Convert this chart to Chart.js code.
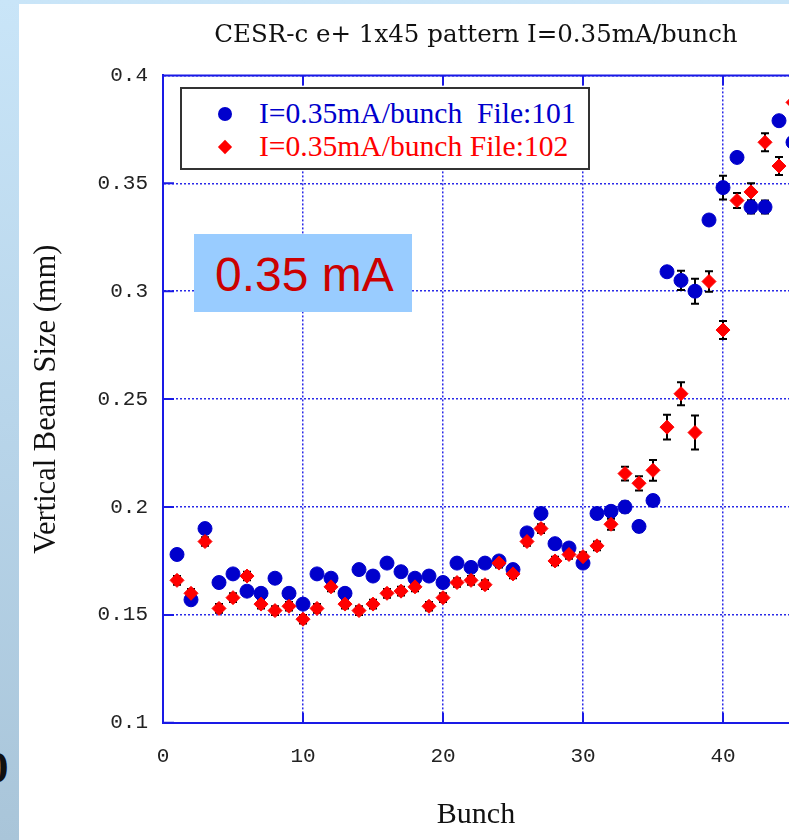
<!DOCTYPE html>
<html>
<head>
<meta charset="utf-8">
<script src="https://cdn.jsdelivr.net/npm/chart.js@4"></script>
<style>
  html, body { margin: 0; padding: 0; }
  body {
    width: 789px; height: 840px; overflow: hidden; position: relative;
    background: linear-gradient(to bottom, #c9e5f8 0%, #b8d5ea 50%, #a9c5d9 100%);
  }
  #panel { position: absolute; left: 19px; top: 4px; right: 0; bottom: 0; background: #fff; }
  #c { position: absolute; left: 19px; top: 4px; }
  #legend {
    position: absolute; left: 180px; top: 87px; width: 406px; height: 79px;
    border: 2px solid #333; background: #fff;
    font-family: "Liberation Serif", serif; font-size: 29.6px;
  }
  #legend .row { position: absolute; left: 0; width: 100%; height: 33px; }
  #legend .txt { position: absolute; left: 77px; top: 0; line-height: 33px; white-space: pre; }
  #legend .mk { position: absolute; left: 36px; top: 10px; width: 14px; height: 14px; }
  #tag {
    position: absolute; left: 194px; top: 234px; width: 197px; height: 78px;
    padding-left: 21px; background: #99ccff; color: #cc0000;
    font-family: "Liberation Sans", sans-serif; font-size: 48px; line-height: 82px;
  }
  #stray {
    position: absolute; left: -14px; top: 745px; font-family: "Liberation Serif", serif;
    font-weight: bold; font-size: 45px; line-height: 45px; color: #111;
  }
</style>
</head>
<body>
<div id="panel"></div>
<canvas id="c" width="914" height="836"></canvas>
<div id="legend">
  <div class="row" style="top:8px;color:#0000cc"><span class="mk" style="border-radius:50%;background:#0000cc"></span><span class="txt">I=0.35mA/bunch  File:101</span></div>
  <div class="row" style="top:41px;color:#ff0000"><span class="mk" style="background:#ff0000;transform:rotate(45deg) scale(0.72)"></span><span class="txt">I=0.35mA/bunch File:102</span></div>
</div>
<div id="tag">0.35 mA</div>
<div id="stray">0</div>
<script>
// bunch number along the train
const bunches = [1, 2, 3, 4, 5, 6, 7, 8, 9, 10, 11, 12, 13, 14, 15, 16, 17, 18, 19, 20,
  21, 22, 23, 24, 25, 26, 27, 28, 29, 30, 31, 32, 33, 34, 35, 36, 37, 38, 39, 40,
  41, 42, 43, 44, 45];

// vertical beam size (mm), File:101
const file101 = [0.178, 0.157, 0.190, 0.165, 0.169, 0.161, 0.160, 0.167, 0.160, 0.155,
  0.169, 0.167, 0.160, 0.171, 0.168, 0.174, 0.170, 0.167, 0.168, 0.165,
  0.174, 0.172, 0.174, 0.175, 0.171, 0.188, 0.197, 0.183, 0.181, 0.174,
  0.197, 0.198, 0.200, 0.191, 0.203, 0.309, 0.305, 0.300, 0.333, 0.348,
  0.362, 0.339, 0.339, 0.379, 0.369];
const err101 = [0.002, 0.002, 0.002, 0.002, 0.002, 0.002, 0.002, 0.002, 0.002, 0.002,
  0.002, 0.002, 0.002, 0.002, 0.002, 0.002, 0.002, 0.002, 0.002, 0.002,
  0.002, 0.002, 0.002, 0.002, 0.002, 0.002, 0.002, 0.002, 0.002, 0.002,
  0.0025, 0.0025, 0.0025, 0.0025, 0.0025, 0.002, 0.0045, 0.0058, 0.002, 0.0055,
  0.002, 0.003, 0.003, 0.002, 0.003];

// vertical beam size (mm), File:102
const file102 = [0.166, 0.160, 0.184, 0.153, 0.158, 0.168, 0.155, 0.152, 0.154, 0.148,
  0.153, 0.163, 0.155, 0.152, 0.155, 0.160, 0.161, 0.163, 0.154, 0.158,
  0.165, 0.166, 0.164, 0.174, 0.169, 0.184, 0.190, 0.175, 0.178, 0.177,
  0.182, 0.192, 0.2155, 0.211, 0.217, 0.237, 0.2525, 0.2345, 0.3045, 0.282,
  0.342, 0.346, 0.369, 0.358, 0.3875];
const err102 = [0.002, 0.002, 0.002, 0.002, 0.002, 0.002, 0.002, 0.002, 0.002, 0.002,
  0.002, 0.002, 0.002, 0.002, 0.002, 0.002, 0.002, 0.002, 0.002, 0.002,
  0.002, 0.002, 0.002, 0.002, 0.002, 0.002, 0.002, 0.002, 0.002, 0.002,
  0.002, 0.0025, 0.0032, 0.0033, 0.0048, 0.0057, 0.0053, 0.0079, 0.0047, 0.0042,
  0.0035, 0.004, 0.0042, 0.0042, 0.003];

const xTicks = [0, 10, 20, 30, 40, 50];
const yTicks = [0.1, 0.15, 0.2, 0.25, 0.3, 0.35, 0.4];

const AXIS_BLUE = '#1a1ae6';
const GRID_BLUE = '#2a2ae8';

// error bars, drawn under the markers
const errorBars = {
  id: 'errorBars',
  beforeDatasetsDraw(chart) {
    const { ctx, scales: { x, y } } = chart;
    ctx.save();
    ctx.strokeStyle = '#000';
    ctx.lineWidth = 2;
    chart.data.datasets.forEach(ds => {
      ds.data.forEach((p, i) => {
        const px = x.getPixelForValue(p.x);
        const top = y.getPixelForValue(p.y + ds.errors[i]);
        const bot = y.getPixelForValue(p.y - ds.errors[i]);
        ctx.beginPath();
        ctx.moveTo(px, top); ctx.lineTo(px, bot);
        ctx.moveTo(px - 4, top); ctx.lineTo(px + 4, top);
        ctx.moveTo(px - 4, bot); ctx.lineTo(px + 4, bot);
        ctx.stroke();
      });
    });
    ctx.restore();
  }
};

// top border and the short solid ticks inside the frame
const frame = {
  id: 'frame',
  beforeDatasetsDraw(chart) {
    const { ctx, chartArea: a, scales: { x, y } } = chart;
    ctx.save();
    ctx.strokeStyle = AXIS_BLUE;
    ctx.lineWidth = 2;
    ctx.beginPath();
    ctx.moveTo(a.left, a.top); ctx.lineTo(a.right, a.top);
    x.ticks.forEach(t => {
      const px = x.getPixelForValue(t.value);
      ctx.moveTo(px, a.top); ctx.lineTo(px, a.top + 10);
      ctx.moveTo(px, a.bottom); ctx.lineTo(px, a.bottom - 10);
    });
    y.ticks.forEach(t => {
      const py = y.getPixelForValue(t.value);
      ctx.moveTo(a.left, py); ctx.lineTo(a.left + 11, py);
      ctx.moveTo(a.right, py); ctx.lineTo(a.right - 11, py);
    });
    ctx.stroke();
    ctx.restore();
  }
};

const monoTicks = { family: '"Liberation Mono", monospace', size: 21 };
const serif = { family: '"Liberation Serif", serif', size: 30 };

new Chart(document.getElementById('c'), {
  type: 'scatter',
  data: {
    datasets: [{
      label: 'I=0.35mA/bunch  File:101',
      data: bunches.map((b, i) => ({ x: b, y: file101[i] })),
      errors: err101,
      pointStyle: 'circle',
      pointRadius: 7,
      backgroundColor: '#0000cc',
      borderColor: '#0000cc',
      borderWidth: 1,
      order: 2
    }, {
      label: 'I=0.35mA/bunch File:102',
      data: bunches.map((b, i) => ({ x: b, y: file102[i] })),
      errors: err102,
      pointStyle: 'rectRot',
      pointRadius: 7,
      backgroundColor: '#ff0000',
      borderColor: '#ff0000',
      borderWidth: 1,
      order: 1
    }]
  },
  options: {
    responsive: false,
    animation: false,
    events: [],
    layout: { padding: 0 },
    scales: {
      x: {
        type: 'linear',
        min: 0,
        max: 50,
        afterBuildTicks: s => { s.ticks = xTicks.map(v => ({ value: v })); },
        ticks: { font: monoTicks, color: '#222', padding: 21, callback: v => String(v) },
        grid: { color: GRID_BLUE, lineWidth: 1.5, drawTicks: false, borderDash: [2, 2] },
        border: { color: AXIS_BLUE, width: 2, dash: [2, 2] }
      },
      y: {
        type: 'linear',
        min: 0.1,
        max: 0.4,
        afterBuildTicks: s => { s.ticks = yTicks.map(v => ({ value: v })); },
        afterFit: s => { s.width = 144; },
        ticks: { font: monoTicks, color: '#222', padding: 15, callback: v => String(+v.toFixed(2)) },
        grid: { color: GRID_BLUE, lineWidth: 1.5, drawTicks: false, borderDash: [2, 2] },
        border: { color: AXIS_BLUE, width: 2, dash: [2, 2] },
        title: {
          display: true,
          text: 'Vertical Beam Size (mm)',
          font: { family: '"Liberation Serif", serif', size: 30.5 },
          color: '#111',
          padding: { top: 10, bottom: 0 }
        }
      },
      yRight: {
        type: 'linear',
        position: 'right',
        min: 0.1,
        max: 0.4,
        afterFit: s => { s.width = 70; },
        ticks: { display: false },
        grid: { display: false, drawTicks: false },
        border: { color: AXIS_BLUE, width: 2 }
      }
    },
    plugins: {
      legend: { display: false },
      tooltip: { enabled: false },
      title: {
        display: true,
        text: 'CESR-c e+ 1x45 pattern I=0.35mA/bunch',
        font: { family: '"DejaVu Serif", serif', size: 24.5, weight: 'normal' },
        color: '#111',
        padding: { top: 17, bottom: 25 }
      },
      subtitle: {
        display: true,
        position: 'bottom',
        text: 'Bunch',
        font: serif,
        color: '#111',
        padding: { top: 7, bottom: 7 }
      }
    }
  },
  plugins: [errorBars, frame]
});
</script>
</body>
</html>
